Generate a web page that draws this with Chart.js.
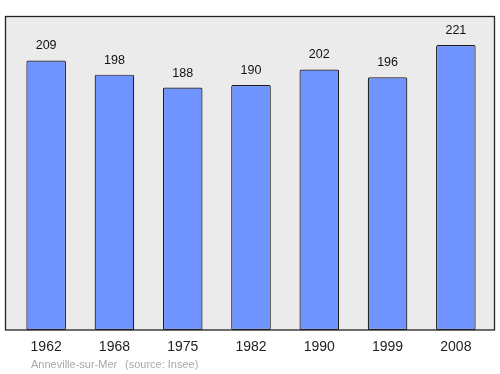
<!DOCTYPE html>
<html>
<head>
<meta charset="utf-8">
<style>
  html, body { margin: 0; padding: 0; background: #fff; }
  #wrap { width: 500px; height: 374px; position: relative; }
</style>
<script src="https://cdn.jsdelivr.net/npm/chart.js@4"></script>
</head>
<body>
<div id="wrap"><canvas id="c" width="500" height="374"></canvas></div>
<script>
// Population by census year, Anneville-sur-Mer (source: Insee)
const YEARS = ['1962', '1968', '1975', '1982', '1990', '1999', '2008'];
const POP = [209, 198, 188, 190, 202, 196, 221];
const PLACE = 'Anneville-sur-Mer';
const SOURCE = '(source: Insee)';

const FONT = '"Liberation Sans", Arial, sans-serif';

// grey panel + black frame behind the bars (a bit wider than the x scale)
const panel = {
  id: 'panel',
  beforeDatasetsDraw(chart) {
    const { ctx, chartArea: a } = chart;
    ctx.save();
    ctx.fillStyle = '#ebebeb';
    ctx.fillRect(5.5, a.top, 489, a.bottom - a.top);
    ctx.restore();
  },
  afterDatasetsDraw(chart) {
    const { ctx, chartArea: a } = chart;
    ctx.save();
    ctx.strokeStyle = '#222';
    ctx.lineWidth = 1.3;
    ctx.strokeRect(5.5, a.top, 489, a.bottom - a.top);
    // value labels above each bar
    ctx.fillStyle = '#111';
    ctx.font = '12.5px ' + FONT;
    ctx.textAlign = 'center';
    ctx.textBaseline = 'middle';
    chart.getDatasetMeta(0).data.forEach((bar, i) => {
      ctx.fillText(String(POP[i]), bar.x, bar.y - 14.5);
    });
    // source line
    ctx.fillStyle = '#a8a8a8';
    ctx.font = '11px ' + FONT;
    ctx.textAlign = 'left';
    ctx.fillText(PLACE, 31, 365);
    ctx.fillText(SOURCE, 125, 365);
    ctx.restore();
  },
};

new Chart(document.getElementById('c'), {
  type: 'bar',
  data: {
    labels: YEARS,
    datasets: [{
      data: POP,
      backgroundColor: '#7094ff',
      borderColor: '#1a1a1a',
      borderWidth: 1.2,
      borderRadius: 1.5,
      borderSkipped: false,
      barPercentage: 0.58,
      categoryPercentage: 1,
    }],
  },
  options: {
    responsive: false,
    animation: false,
    layout: { padding: { left: 12, right: 10, top: 16.5, bottom: 9 } },
    plugins: { legend: { display: false }, tooltip: { enabled: false } },
    scales: {
      x: {
        grid: { display: false, drawTicks: false },
        border: { display: false },
        ticks: { color: '#222', font: { family: FONT, size: 14 }, padding: 9, maxRotation: 0 },
        afterFit: (s) => { s.height = 35; },
      },
      y: { display: false, min: 0, max: 243.1 },
    },
  },
  plugins: [panel],
});
</script>
</body>
</html>
